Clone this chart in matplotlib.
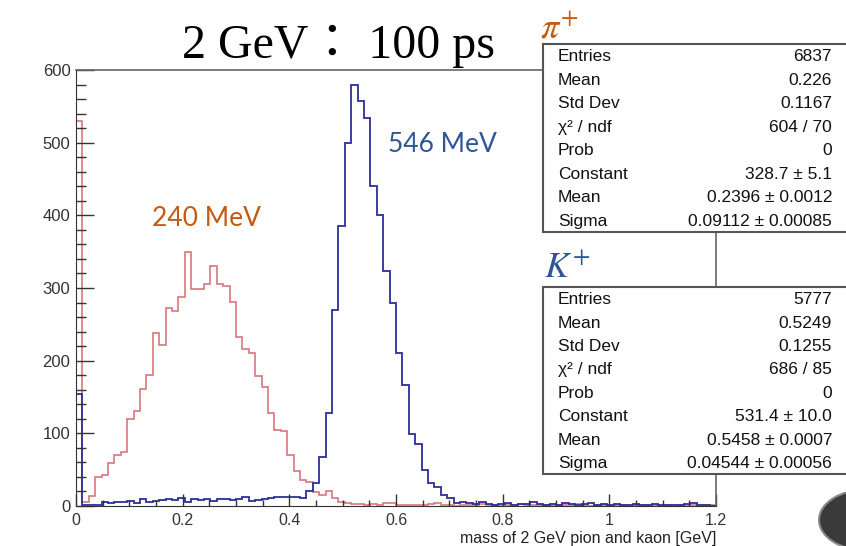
import numpy as np
import matplotlib.pyplot as plt
from matplotlib.patches import Rectangle, Circle

plt.rcParams['font.family'] = 'Liberation Sans'
plt.rcParams['mathtext.fontset'] = 'stix'

W, H = 846, 546

# histogram binning: 100 bins over 0 - 1.2 GeV
xmin, xmax, nbins = 0.0, 1.2, 100

pion_counts = [
    530, 6, 14, 40, 43, 59, 70, 75, 120, 131,
    161, 180, 238, 222, 272, 268, 288, 350, 298, 298,
    305, 330, 306, 303, 281, 233, 216, 210, 179, 164,
    128, 105, 103, 70, 48, 36, 33, 19, 15, 20,
    11, 6, 4, 3, 3, 2, 3, 2, 4, 4,
    2, 1, 2, 2, 1, 3, 4, 2, 1, 0,
    1, 2, 1, 3, 2, 1, 0, 1, 2, 3,
    2, 1, 1, 2, 0, 1, 2, 1, 3, 1,
    0, 1, 1, 0, 2, 1, 0, 1, 1, 0,
    1, 0, 1, 0, 1, 0, 1, 0, 1, 2,
]

kaon_counts = [
    154, 1, 1, 1, 6, 4, 5, 5, 7, 4,
    9, 6, 7, 8, 10, 8, 11, 6, 10, 8,
    9, 7, 9, 10, 8, 10, 12, 7, 8, 10,
    11, 12, 12, 12, 13, 11, 20, 31, 68, 128,
    270, 386, 500, 579, 558, 534, 441, 401, 324, 280,
    211, 166, 99, 86, 50, 31, 26, 15, 11, 4,
    5, 4, 3, 5, 3, 2, 3, 4, 2, 3,
    3, 5, 3, 2, 3, 2, 4, 3, 2, 3,
    4, 2, 3, 2, 3, 2, 2, 3, 2, 2,
    3, 2, 2, 2, 2, 3, 4, 2, 1, 0,
]

stat_labels = ['Entries', 'Mean', 'Std Dev', 'χ² / ndf', 'Prob',
               'Constant', 'Mean', 'Sigma']
pion_stats = ['6837', '0.226', '0.1167', '604 / 70', '0',
              '328.7 ± 5.1', '0.2396 ± 0.0012', '0.09112 ± 0.00085']
kaon_stats = ['5777', '0.5249', '0.1255', '686 / 85', '0',
              '531.4 ± 10.0', '0.5458 ± 0.0007', '0.04544 ± 0.00056']

orange = '#c55a11'
blue = '#2f5597'


def fx(px):
    return px / W


def fy(py):
    return 1 - py / H


fig = plt.figure(figsize=(W / 100, H / 100), dpi=100)
ax = fig.add_axes([fx(76), fy(506), 640 / W, 436 / H])

edges = np.linspace(xmin, xmax, nbins + 1)
ax.stairs(pion_counts, edges, color='#d8777a', lw=1.2)
ax.stairs(kaon_counts, edges, color='#2e2e9c', lw=1.3)

ax.set_xlim(xmin, xmax)
ax.set_ylim(0, 600)
ax.set_xticks(np.arange(0, 1.201, 0.2))
ax.set_xticklabels(['0', '0.2', '0.4', '0.6', '0.8', '1', '1.2'])
ax.set_xticks(np.arange(0, 1.201, 0.05), minor=True)
ax.set_yticks(range(0, 601, 100))
ax.set_yticks(range(0, 601, 20), minor=True)

ax.tick_params(axis='both', which='both', direction='in', colors='#333333',
               labelsize=12, width=1)
ax.tick_params(axis='y', which='major', length=13, pad=4)
ax.tick_params(axis='y', which='minor', length=7)
ax.tick_params(axis='x', which='major', length=8.5, pad=5, labelsize=11.5)
ax.tick_params(axis='x', which='minor', length=4.5)
for side in ['left', 'bottom']:
    ax.spines[side].set_color('#333333')
for side in ['top', 'right']:
    ax.spines[side].set_color('#666666')
    ax.spines[side].set_linewidth(1.2)

fig.text(fx(716), fy(543), 'mass of 2 GeV pion and kaon [GeV]',
         ha='right', va='baseline', fontsize=11.5, color='#222222')

# title and peak annotations
fig.text(fx(338), fy(58), '2 GeV： 100 ps', ha='center', va='baseline',
         fontsize=34.5, family=['Liberation Serif', 'Noto Sans CJK TC'])
fig.text(fx(152), fy(226), '240 MeV', ha='left', va='baseline',
         fontsize=19, family='Lato', color=orange)
fig.text(fx(388), fy(152), '546 MeV', ha='left', va='baseline',
         fontsize=19, family='Lato', color=blue)


def stat_box(top, bottom, values):
    box = Rectangle((fx(543), fy(bottom)), fx(870) - fx(543), fy(top) - fy(bottom),
                    transform=fig.transFigure, fc='white', ec='#555555',
                    lw=1.5, zorder=5)
    fig.add_artist(box)
    step = (bottom - top) / 8
    for i, (lab, val) in enumerate(zip(stat_labels, values)):
        y = top + step * (i + 0.55)
        fig.text(fx(558), fy(y), lab, ha='left', va='center',
                 fontsize=12.5, color='#111111', zorder=6)
        fig.text(fx(832), fy(y), val, ha='right', va='center',
                 fontsize=12.5, color='#111111', zorder=6)


stat_box(44, 232, pion_stats)
stat_box(287, 474, kaon_stats)

fig.text(fx(540), fy(38), r'$\pi^{+}$', fontsize=26, color=orange)
fig.text(fx(544), fy(278), r'$K^{+}$', fontsize=26, color=blue)

fig.add_artist(Circle((fx(866), fy(520)), 47 / W, transform=fig.transFigure,
                      fc='#3a3a3a', ec='#8a8a8a', lw=1.5, zorder=4))

fig.savefig('out.png', dpi=100)
